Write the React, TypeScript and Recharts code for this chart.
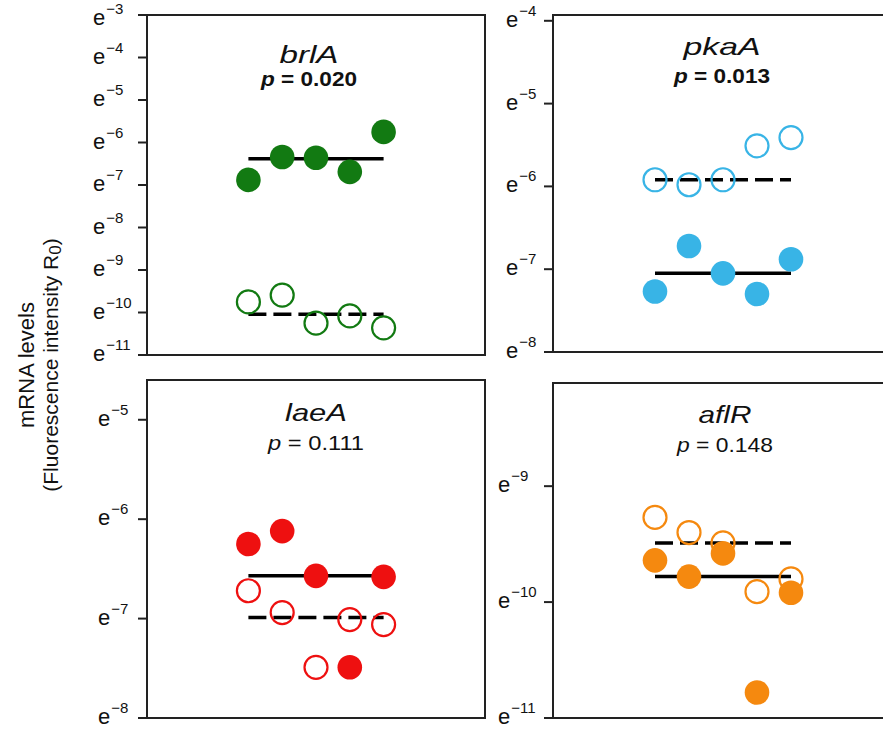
import { ScatterChart, Scatter, XAxis, YAxis, ReferenceArea, ReferenceLine } from 'recharts';

const FONT = '"Liberation Sans", Arial, Helvetica, sans-serif';

// replicate positions along x (5 strains per group)
const REPLICATES = [1, 2, 3, 4, 5];

// values are natural-log exponents (mRNA = e^value)
const brlAFilled = [-6.88, -6.34, -6.36, -6.69, -5.75];
const brlAOpen = [-9.75, -9.59, -10.25, -10.08, -10.36];
const brlAFilledMedian = -6.38;
const brlAOpenMedian = -10.04;
const brlATicks = [-11, -10, -9, -8, -7, -6, -5, -4, -3];

const pkaAFilled = [-7.27, -6.72, -7.05, -7.3, -6.88];
const pkaAOpen = [-5.92, -5.98, -5.92, -5.51, -5.41];
const pkaAFilledMedian = -7.05;
const pkaAOpenMedian = -5.92;
const pkaATicks = [-8, -7, -6, -5, -4];

const laeAFilled = [-6.25, -6.12, -6.57, -7.49, -6.58];
const laeAOpen = [-6.72, -6.94, -7.49, -7.01, -7.06];
const laeAFilledMedian = -6.57;
const laeAOpenMedian = -6.99;
const laeATicks = [-8, -7, -6, -5];

const aflRFilled = [-9.64, -9.78, -9.58, -10.78, -9.92];
const aflROpen = [-9.27, -9.4, -9.49, -9.91, -9.8];
const aflRFilledMedian = -9.78;
const aflROpenMedian = -9.49;
const aflRTicks = [-11, -10, -9];

const toPoints = (vals: number[]) => vals.map((y, i) => ({ x: REPLICATES[i], y }));

type PanelProps = {
  left: number;
  top: number;
  width: number;
  height: number;
  marginTop: number;
  marginBottom: number;
  axisWidth: number;
  xDomain: [number, number];
  yDomain: [number, number];
  ticks: number[];
  labelX: number;
  color: string;
  filled: number[];
  open: number[];
  filledMedian: number;
  openMedian: number;
  gene: string;
  geneLen: number;
  pText: string;
  pBold: boolean;
  titleX: number;
  titleY: number;
  pY: number;
};

const ExpTick = ({ x, y, v }: { x: number; y: number; v: number }) => (
  <text x={x} y={Math.max(y + 6, 25)} fontFamily={FONT} fontSize={22} fill="#111">
    e
    <tspan dx={1} dy={-11} fontSize={15}>
      {'\u2212' + Math.abs(v)}
    </tspan>
  </text>
);

const Panel = (p: PanelProps) => {
  const first = REPLICATES[0];
  const last = REPLICATES[REPLICATES.length - 1];
  return (
    <div style={{ position: 'absolute', left: p.left, top: p.top }}>
      <ScatterChart
        width={p.width}
        height={p.height}
        margin={{ top: p.marginTop, right: 10, bottom: p.marginBottom, left: 0 }}
      >
        <XAxis type="number" dataKey="x" domain={p.xDomain} hide allowDataOverflow />
        <YAxis
          type="number"
          dataKey="y"
          domain={p.yDomain}
          ticks={p.ticks}
          interval={0}
          width={p.axisWidth}
          allowDataOverflow
          axisLine={false}
          tickSize={9}
          tickLine={{ stroke: '#222', strokeWidth: 2 }}
          tick={(t: any) => <ExpTick key={t.index} x={p.labelX} y={t.y} v={t.payload.value} />}
        />
        <ReferenceArea
          x1={p.xDomain[0]}
          x2={p.xDomain[1]}
          y1={p.yDomain[0]}
          y2={p.yDomain[1]}
          fill="none"
          fillOpacity={0}
          stroke="#222"
          strokeWidth={2}
        />
        <Scatter
          data={toPoints(p.open)}
          isAnimationActive={false}
          shape={(s: any) => (
            <circle cx={s.cx} cy={s.cy} r={11.5} fill="none" stroke={p.color} strokeWidth={2.2} />
          )}
        />
        <Scatter
          data={toPoints(p.filled)}
          isAnimationActive={false}
          shape={(s: any) => <circle cx={s.cx} cy={s.cy} r={12.3} fill={p.color} />}
        />
        <ReferenceLine
          segment={[
            { x: first, y: p.filledMedian },
            { x: last, y: p.filledMedian },
          ]}
          stroke="#000"
          strokeWidth={3.5}
        />
        <ReferenceLine
          segment={[
            { x: first, y: p.openMedian },
            { x: last, y: p.openMedian },
          ]}
          stroke="#000"
          strokeWidth={3.5}
          strokeDasharray="18 7"
        />
        <text
          x={p.titleX}
          y={p.titleY}
          textAnchor="middle"
          fontFamily={FONT}
          fontSize={24}
          fontStyle="italic"
          fill="#111"
          textLength={p.geneLen}
          lengthAdjust="spacingAndGlyphs"
        >
          {p.gene}
        </text>
        <text
          x={p.titleX}
          y={p.pY}
          textAnchor="middle"
          fontFamily={FONT}
          fontSize={21}
          fontWeight={p.pBold ? 'bold' : 'normal'}
          fill="#111"
          textLength={96}
          lengthAdjust="spacingAndGlyphs"
        >
          <tspan fontStyle="italic">p</tspan>
          {' = ' + p.pText}
        </text>
      </ScatterChart>
    </div>
  );
};

export default function App() {
  return (
    <div
      style={{
        position: 'absolute',
        left: 0,
        top: 0,
        width: 883,
        height: 731,
        overflow: 'hidden',
        background: '#fff',
      }}
    >
      <svg width={80} height={731} style={{ position: 'absolute', left: 0, top: 0 }}>
        <text
          transform="translate(34,365) rotate(-90)"
          textAnchor="middle"
          fontFamily={FONT}
          fontSize={22}
          fill="#111"
        >
          mRNA levels
        </text>
        <text
          transform="translate(58,365) rotate(-90)"
          textAnchor="middle"
          fontFamily={FONT}
          fontSize={21}
          fill="#111"
        >
          (Fluorescence intensity R
          <tspan fontSize={17} dy={3}>
            0
          </tspan>
          <tspan dy={-3}>)</tspan>
        </text>
      </svg>
      <Panel
        left={0}
        top={0}
        width={495}
        height={372}
        marginTop={15}
        marginBottom={17}
        axisWidth={147}
        xDomain={[-2, 8]}
        yDomain={[-11, -3]}
        ticks={brlATicks}
        labelX={93}
        color="#127a12"
        filled={brlAFilled}
        open={brlAOpen}
        filledMedian={brlAFilledMedian}
        openMedian={brlAOpenMedian}
        gene="brlA"
        geneLen={59}
        pText="0.020"
        pBold
        titleX={309}
        titleY={63}
        pY={86}
      />
      <Panel
        left={0}
        top={365}
        width={495}
        height={366}
        marginTop={15}
        marginBottom={13}
        axisWidth={147}
        xDomain={[-2, 8]}
        yDomain={[-8, -4.6]}
        ticks={laeATicks}
        labelX={98}
        color="#ee1010"
        filled={laeAFilled}
        open={laeAOpen}
        filledMedian={laeAFilledMedian}
        openMedian={laeAOpenMedian}
        gene="laeA"
        geneLen={62}
        pText="0.111"
        pBold={false}
        titleX={316}
        titleY={56}
        pY={85}
      />
      <Panel
        left={400}
        top={0}
        width={571}
        height={372}
        marginTop={15}
        marginBottom={20}
        axisWidth={153}
        xDomain={[-2, 10]}
        yDomain={[-8, -3.93]}
        ticks={pkaATicks}
        labelX={106}
        color="#38b4e6"
        filled={pkaAFilled}
        open={pkaAOpen}
        filledMedian={pkaAFilledMedian}
        openMedian={pkaAOpenMedian}
        gene="pkaA"
        geneLen={77}
        pText="0.013"
        pBold
        titleX={322}
        titleY={55}
        pY={83}
      />
      <Panel
        left={400}
        top={365}
        width={571}
        height={366}
        marginTop={18}
        marginBottom={13}
        axisWidth={153}
        xDomain={[-2, 10]}
        yDomain={[-11, -8.11]}
        ticks={aflRTicks}
        labelX={98}
        color="#f5890f"
        filled={aflRFilled}
        open={aflROpen}
        filledMedian={aflRFilledMedian}
        openMedian={aflROpenMedian}
        gene="aflR"
        geneLen={53}
        pText="0.148"
        pBold={false}
        titleX={325}
        titleY={58}
        pY={87}
      />
    </div>
  );
}
